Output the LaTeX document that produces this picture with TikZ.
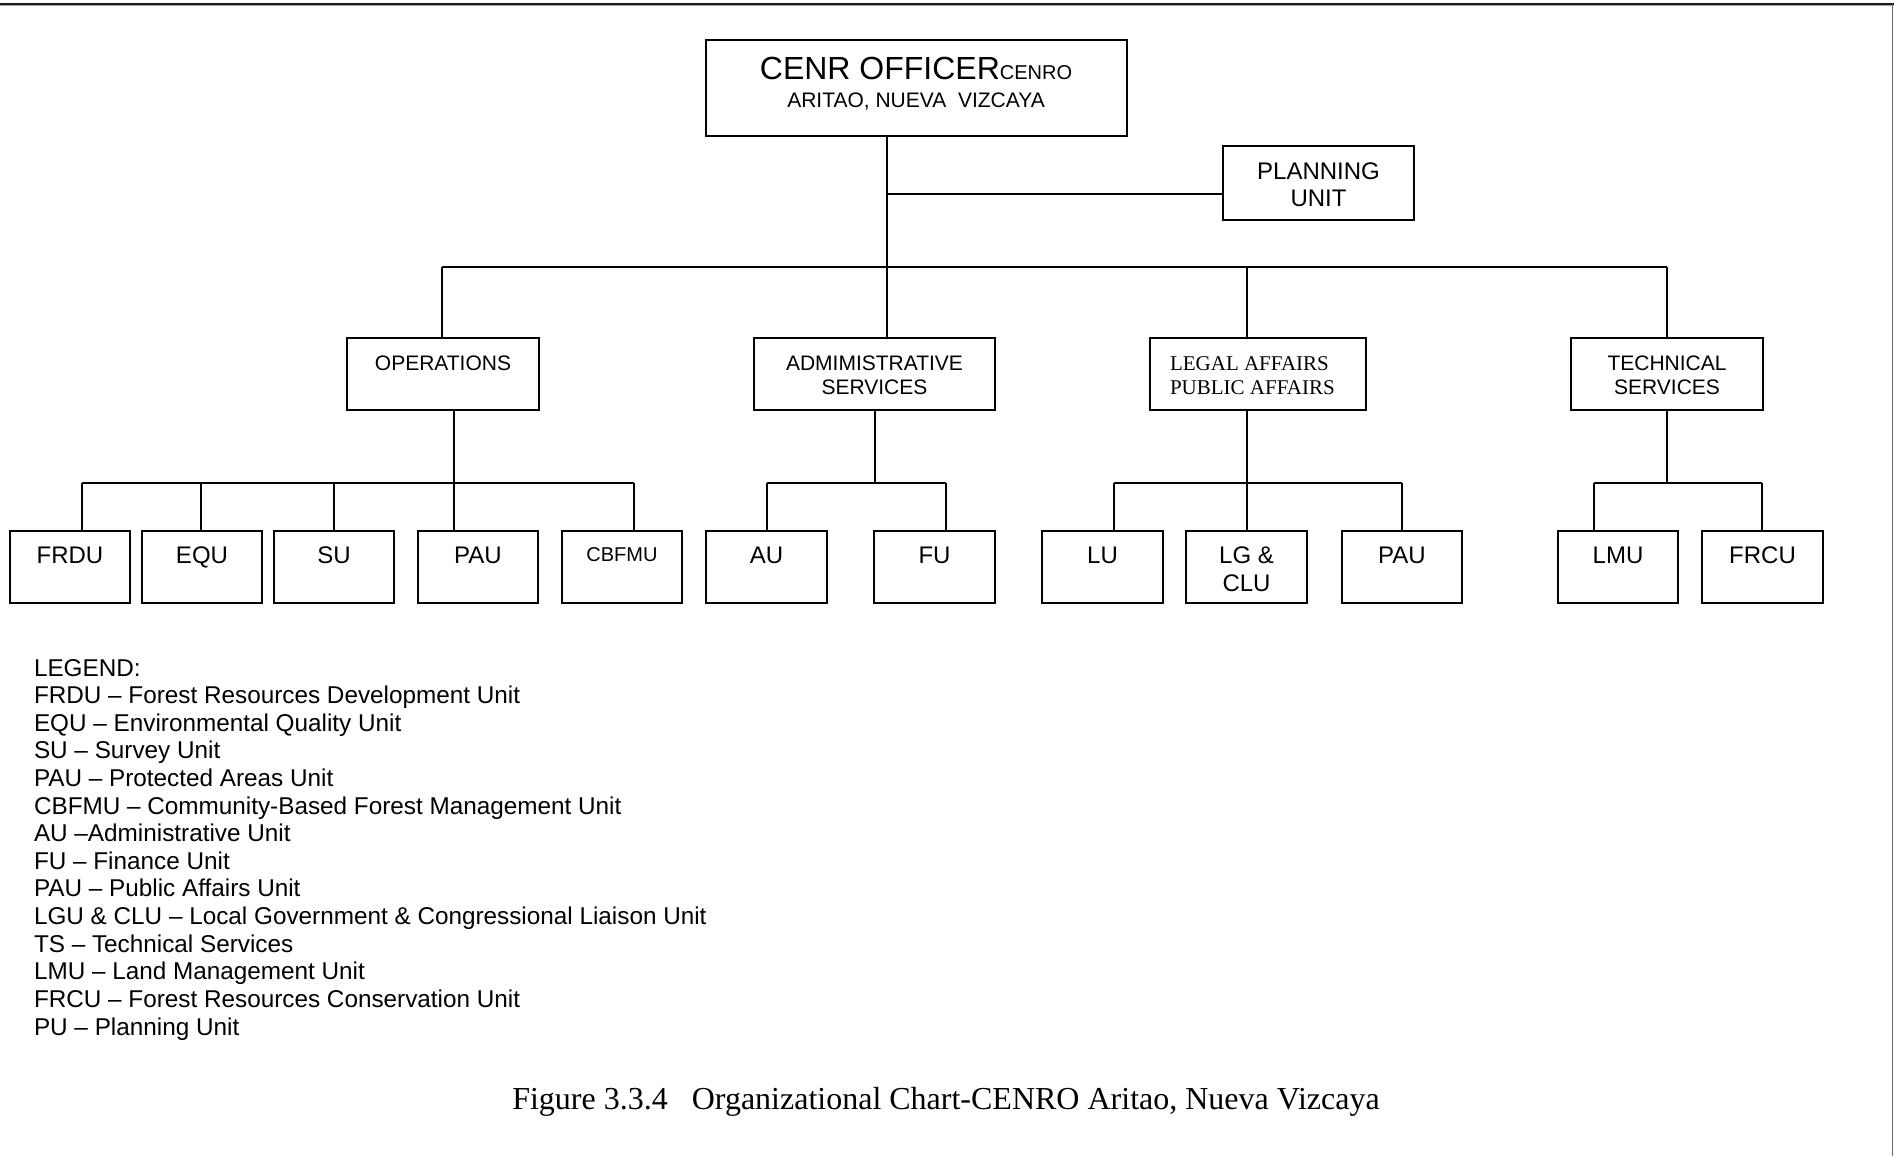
\documentclass[tikz,border=0pt]{standalone}
\usepackage{fontspec}
\setmainfont{Liberation Sans}
\newfontfamily\serifrm{Liberation Serif}
\usetikzlibrary{fit,calc}
\begin{document}
\begin{tikzpicture}[x=0.5pt,y=-0.5pt,
  box/.style={draw, line width=0.9pt, inner sep=0pt, outer sep=0pt},
  conn/.style={line width=0.9pt},
  lbl/.style={inner sep=0pt, outer sep=0pt, font=\fontsize{12}{13.8}\selectfont},
  lbltwo/.style={inner sep=0pt, outer sep=0pt, font=\fontsize{10.5}{12}\selectfont},
  lblser/.style={inner sep=0pt, outer sep=0pt, font=\serifrm\fontsize{10.5}{12}\selectfont},
  legline/.style={inner sep=0pt, outer sep=0pt, anchor=base west, font=\fontsize{12.15}{13.8}\selectfont},
  captxt/.style={inner sep=0pt, outer sep=0pt, anchor=base, font=\serifrm\fontsize{16}{19}\selectfont}]
\useasboundingbox (0,0) rectangle (1894,1156);
% page border fragments
\draw[line width=1.8pt, black!35] (0,4.5) -- (1894,4.5);
\draw[line width=1pt, black!90] (0,4.5) -- (1894,4.5);
\draw[line width=0.8pt, black!60] (1892.5,4.5) -- (1892.5,1156);

% top boxes
\node[box, fit={(706,40) (1127,136)}] (ceo) {};
\node[inner sep=0pt, anchor=base] (ceo-t1) at (916,80)
  {{\fontsize{16}{18}\selectfont CENR OFFICER}{\fontsize{10}{12}\selectfont CENRO}};
\node[lbltwo, anchor=base] (ceo-t2) at (916,107.5) {ARITAO, NUEVA\ \ VIZCAYA};

\node[box, fit={(1223,146) (1414,220)}] (plan) {};
\node[lbl, anchor=base] (plan-t1) at (1318.5,179) {PLANNING};
\node[lbl, anchor=base] (plan-t2) at (1318.5,206.5) {UNIT};

% level 2
\node[box, fit={(347,338) (539,410)}] (ops) {};
\node[lbltwo, anchor=base] (ops-t) at (443,370) {OPERATIONS};
\node[box, fit={(754,338) (995,410)}] (adm) {};
\node[lbltwo, anchor=base] (adm-t1) at (874.5,370) {ADMIMISTRATIVE};
\node[lbltwo, anchor=base] (adm-t2) at (874.5,394) {SERVICES};
\node[box, fit={(1150,338) (1366,410)}] (leg) {};
\node[lblser, anchor=base west] (leg-t1) at (1170,370) {LEGAL AFFAIRS};
\node[lblser, anchor=base west] (leg-t2) at (1170,394) {PUBLIC AFFAIRS};
\node[box, fit={(1571,338) (1763,410)}] (tec) {};
\node[lbltwo, anchor=base] (tec-t1) at (1667,370) {TECHNICAL};
\node[lbltwo, anchor=base] (tec-t2) at (1667,394) {SERVICES};

% level 3
\node[box, fit={(10,531) (130,603)}] (frdu) {};
\node[lbl, anchor=base] (frdu-t) at (70,563.5) {FRDU};
\node[box, fit={(142,531) (262,603)}] (equ) {};
\node[lbl, anchor=base] (equ-t) at (202,563.5) {EQU};
\node[box, fit={(274,531) (394,603)}] (su) {};
\node[lbl, anchor=base] (su-t) at (334,563.5) {SU};
\node[box, fit={(418,531) (538,603)}] (pau) {};
\node[lbl, anchor=base] (pau-t) at (478,563.5) {PAU};
\node[box, fit={(562,531) (682,603)}] (cbfmu) {};
\node[inner sep=0pt, anchor=base, font=\fontsize{10}{12}\selectfont] (cbfmu-t) at (622,561.5) {CBFMU};
\node[box, fit={(706,531) (827,603)}] (au) {};
\node[lbl, anchor=base] (au-t) at (766.5,563.5) {AU};
\node[box, fit={(874,531) (995,603)}] (fu) {};
\node[lbl, anchor=base] (fu-t) at (934.5,563.5) {FU};
\node[box, fit={(1042,531) (1163,603)}] (lu) {};
\node[lbl, anchor=base] (lu-t) at (1102.5,563.5) {LU};
\node[box, fit={(1186,531) (1307,603)}] (lgclu) {};
\node[lbl, anchor=base] (lgclu-t1) at (1246.5,563.5) {LG \&};
\node[lbl, anchor=base] (lgclu-t2) at (1246.5,591) {CLU};
\node[box, fit={(1342,531) (1462,603)}] (paub) {};
\node[lbl, anchor=base] (paub-t) at (1402,563.5) {PAU};
\node[box, fit={(1558,531) (1678,603)}] (lmu) {};
\node[lbl, anchor=base] (lmu-t) at (1618,563.5) {LMU};
\node[box, fit={(1702,531) (1823,603)}] (frcu) {};
\node[lbl, anchor=base] (frcu-t) at (1762.5,563.5) {FRCU};

% connectors: top
\coordinate (jmain) at (887,267);
\coordinate (jplan) at (887,194);
\coordinate (busL) at (442,267);
\coordinate (busR) at (1667,267);
\coordinate (jleg) at (1247,267);
\draw[conn] (ceo.south -| jmain) -- (jmain |- adm.north);
\draw[conn] (jplan) -- (jplan -| plan.west);
\draw[conn] (busL) -- (busR);
\draw[conn] (busL) -- (busL |- ops.north);
\draw[conn] (jleg) -- (jleg |- leg.north);
\draw[conn] (busR) -- (busR |- tec.north);

% connectors: operations
\coordinate (jops) at (454,483);
\draw[conn] (ops.south -| jops) -- (jops);
\draw[conn] (82,483) -- (634,483);
\foreach \n/\x in {frdu/82, equ/201, su/334, pau/454, cbfmu/634}
  \draw[conn] (\x,483) -- (\n.north -| \x,483);

% connectors: administrative
\coordinate (jadm) at (875,483);
\draw[conn] (adm.south -| jadm) -- (jadm);
\draw[conn] (767,483) -- (946,483);
\foreach \n/\x in {au/767, fu/946}
  \draw[conn] (\x,483) -- (\n.north -| \x,483);

% connectors: legal
\coordinate (jlg) at (1247,483);
\draw[conn] (leg.south -| jlg) -- (jlg);
\draw[conn] (1114,483) -- (1402,483);
\foreach \n/\x in {lu/1114, lgclu/1247, paub/1402}
  \draw[conn] (\x,483) -- (\n.north -| \x,483);

% connectors: technical
\coordinate (jtec) at (1667,483);
\draw[conn] (tec.south -| jtec) -- (jtec);
\draw[conn] (1594,483) -- (1762,483);
\foreach \n/\x in {lmu/1594, frcu/1762}
  \draw[conn] (\x,483) -- (\n.north -| \x,483);

% legend
\foreach \txt [count=\i from 0] in {
  LEGEND:,
  FRDU – Forest Resources Development Unit,
  EQU – Environmental Quality Unit,
  SU – Survey Unit,
  PAU – Protected Areas Unit,
  CBFMU – Community-Based Forest Management Unit,
  AU –Administrative Unit,
  FU – Finance Unit,
  PAU – Public Affairs Unit,
  LGU \& CLU – Local Government \& Congressional Liaison Unit,
  TS – Technical Services,
  LMU – Land Management Unit,
  FRCU – Forest Resources Conservation Unit,
  PU – Planning Unit}
  \node[legline] (leg\i) at (34,676+27.62*\i) {\txt};

% caption
\node[captxt] (caption) at (946,1109) {Figure 3.3.4\hspace{12pt}Organizational Chart-CENRO Aritao, Nueva Vizcaya};
\end{tikzpicture}
\end{document}
